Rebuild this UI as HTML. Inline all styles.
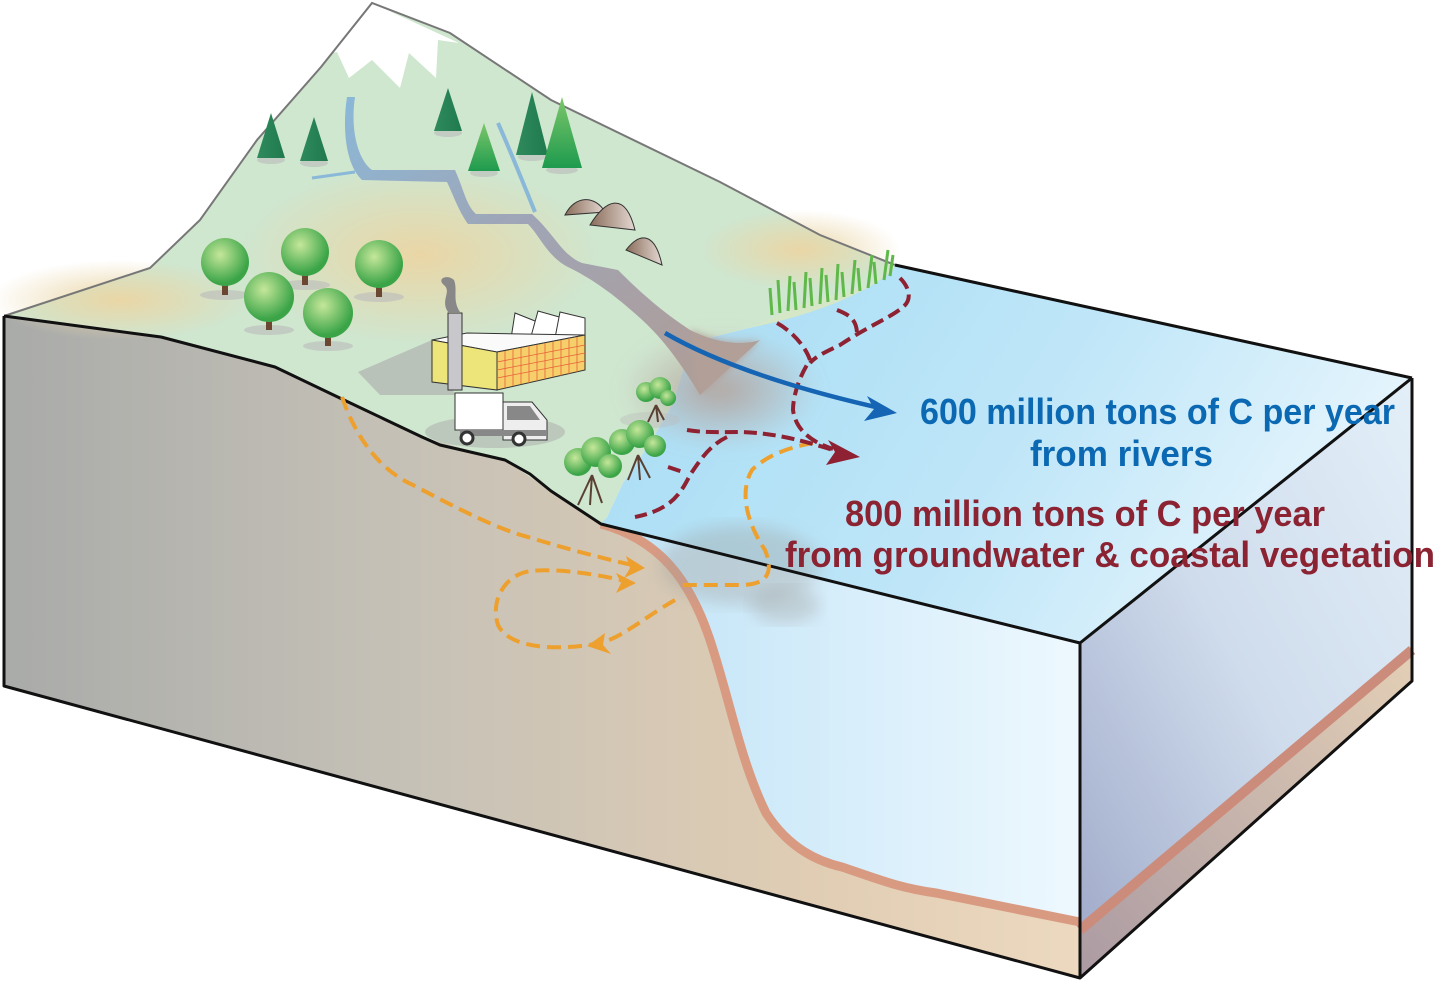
<!DOCTYPE html>
<html><head><meta charset="utf-8"><style>
html,body{margin:0;padding:0;background:#fff;}
svg{display:block;}
text{font-family:"Liberation Sans Narrow","Liberation Sans",sans-serif;font-weight:bold;}
</style></head><body>
<svg width="1440" height="981" viewBox="0 0 1440 981" xmlns="http://www.w3.org/2000/svg">
<defs>
<linearGradient id="frontLand" x1="0" y1="0" x2="1" y2="0">
<stop offset="0" stop-color="#a9aba9"/><stop offset="0.35" stop-color="#c4c0b6"/><stop offset="0.75" stop-color="#e0cdb4"/><stop offset="1" stop-color="#ecd9bf"/></linearGradient>
<linearGradient id="frontSea" x1="0" y1="0" x2="1" y2="0">
<stop offset="0" stop-color="#bfe3f7"/><stop offset="1" stop-color="#eef8fe"/></linearGradient>
<linearGradient id="rightFace" x1="1" y1="0" x2="0" y2="1">
<stop offset="0" stop-color="#e3eff8"/><stop offset="0.5" stop-color="#cfdcec"/><stop offset="1" stop-color="#9ea8c8"/></linearGradient>
<linearGradient id="rightSed" x1="1" y1="0" x2="0" y2="1">
<stop offset="0" stop-color="#e4d0b6"/><stop offset="1" stop-color="#ab9aa2"/></linearGradient>
<linearGradient id="seaTop" x1="0" y1="0" x2="1" y2="0.3">
<stop offset="0" stop-color="#a6dcf4"/><stop offset="0.6" stop-color="#bfe6f8"/><stop offset="1" stop-color="#e4f4fc"/></linearGradient>
<radialGradient id="tan" cx="0.5" cy="0.5" r="0.5">
<stop offset="0" stop-color="#ead6a6"/><stop offset="1" stop-color="#ead6a6" stop-opacity="0"/></radialGradient>
<radialGradient id="plume" cx="0.5" cy="0.5" r="0.5">
<stop offset="0" stop-color="#b4a29a" stop-opacity="0.9"/><stop offset="1" stop-color="#b4a29a" stop-opacity="0"/></radialGradient>
<linearGradient id="conifer" x1="0" y1="0" x2="1" y2="0"><stop offset="0" stop-color="#2f8a5c"/><stop offset="1" stop-color="#1f7a4e"/></linearGradient>
<linearGradient id="conifer2" x1="0" y1="0" x2="0" y2="1"><stop offset="0" stop-color="#7cc66a"/><stop offset="1" stop-color="#1e9b4e"/></linearGradient>
<radialGradient id="leaf" cx="0.4" cy="0.35" r="0.6"><stop offset="0" stop-color="#c5e79a"/><stop offset="1" stop-color="#3aa447"/></radialGradient>
<linearGradient id="rock" x1="0" y1="0" x2="1" y2="0"><stop offset="0" stop-color="#8a6d5a"/><stop offset="1" stop-color="#e4d8d2"/></linearGradient>
<linearGradient id="river" x1="0" y1="0" x2="1" y2="1"><stop offset="0" stop-color="#8ab8d8"/><stop offset="0.45" stop-color="#a0a4b4"/><stop offset="1" stop-color="#b29c92"/></linearGradient>
<filter id="blur8"><feGaussianBlur stdDeviation="8"/></filter>
<filter id="blur4"><feGaussianBlur stdDeviation="4"/></filter>
<filter id="blur2"><feGaussianBlur stdDeviation="2"/></filter>
</defs>

<path d="M4,316 L161,337 L275,367 L344,400 L422,437 L505,460 L551,491 L601,524 L1080,643 L1080,978 L4,686 Z" fill="url(#frontLand)"/>
<path d="M601,524 C660,540 690,580 710,640 C730,700 740,760 766,813 C790,850 820,862 842,867 C880,880 900,888 936,893 L1068,918 L1080,920 L1080,643 Z" fill="url(#frontSea)"/>
<path d="M601,524 C660,540 690,580 710,640 C730,700 740,760 766,813 C790,850 820,862 842,867 C880,880 900,888 936,893 L1080,922" fill="none" stroke="#d99a82" stroke-width="9"/>
<path d="M1080,643 L1412,378 L1412,681 L1080,978 Z" fill="url(#rightFace)"/>
<path d="M1080,930 L1412,645 L1412,681 L1080,978 Z" fill="url(#rightSed)"/>
<path d="M1080,930 L1412,650" stroke="#cc8c7c" stroke-width="10"/>

<path d="M601,524 L720,553 L1080,643 L1412,378 L895,265 L870,285 L800,305 L753,327 L700,340 L683,370 L673,403 L650,443 L623,483 L607,517 Z" fill="url(#seaTop)"/>

<path d="M4,316 L150,268 L200,220 L257,140 L321,67 L372,3 L450,33 L551,100 L720,182 L820,235 L895,265 L870,285 L800,305 L753,327 L700,340 L683,370 L673,403 L650,443 L623,483 L607,517 L601,524 L551,491 L505,460 L422,437 L344,400 L275,367 L161,337 Z" fill="#cfe6cf"/>
<ellipse cx="120" cy="300" rx="130" ry="40" fill="url(#tan)"/>
<ellipse cx="420" cy="255" rx="180" ry="90" fill="url(#tan)"/>
<ellipse cx="800" cy="250" rx="100" ry="40" fill="url(#tan)"/>
<path d="M372,3 L303,58 L337,52 L349,78 L372,60 L400,88 L409,53 L436,78 L438,40 L459,43 Z" fill="#fff"/>

<!-- plumes -->
<ellipse cx="720" cy="390" rx="100" ry="60" fill="url(#plume)" filter="url(#blur8)"/>
<ellipse cx="740" cy="565" rx="80" ry="40" fill="#9e9e9a" opacity="0.35" filter="url(#blur8)"/>
<ellipse cx="785" cy="605" rx="35" ry="18" fill="#9e9e9a" opacity="0.35" filter="url(#blur8)"/>
<!-- river -->
<path d="M355,97 C350,130 358,160 372,170 L455,170 C464,190 466,205 476,214 L532,214 C555,235 562,255 582,263 L618,270 C640,292 660,310 690,330 C720,345 745,345 760,340 L700,395 C685,370 665,340 640,318 C620,300 598,282 570,268 C548,258 540,236 528,224 L468,224 C458,210 452,192 447,182 L362,180 C346,165 342,130 347,97 Z" fill="url(#river)"/>
<path d="M690,330 C720,345 745,345 760,340 L700,395 Z" fill="#b2a098" filter="url(#blur4)"/>
<path d="M355,172 L312,178" stroke="#8ab8d8" stroke-width="3"/>
<path d="M498,123 C510,150 520,175 535,212" stroke="#8ab8d8" stroke-width="4" fill="none"/>

<path d="M4,316 L150,268 L200,220 L257,140 L321,67 L372,3 L450,33 L551,100 L720,182 L820,235 L895,265" fill="none" stroke="#777" stroke-width="2"/>

<g>
<ellipse cx="271" cy="160" rx="14" ry="4" fill="#bbb" opacity=".6"/><path d="M271,113 L285,158 L257,158 Z" fill="url(#conifer)"/>
<ellipse cx="314" cy="163" rx="14" ry="4" fill="#bbb" opacity=".6"/><path d="M314,117 L328,161 L300,161 Z" fill="url(#conifer)"/>
<ellipse cx="448" cy="133" rx="14" ry="4" fill="#bbb" opacity=".6"/><path d="M448,88 L462,131 L434,131 Z" fill="url(#conifer)"/>
<ellipse cx="484" cy="173" rx="14" ry="4" fill="#bbb" opacity=".6"/><path d="M484,123 L500,171 L468,171 Z" fill="url(#conifer2)"/>
<ellipse cx="532" cy="157" rx="14" ry="4" fill="#bbb" opacity=".6"/><path d="M532,92 L548,155 L516,155 Z" fill="url(#conifer)"/>
<ellipse cx="562" cy="170" rx="16" ry="4" fill="#bbb" opacity=".6"/><path d="M562,97 L582,168 L542,168 Z" fill="url(#conifer2)"/>
</g>
<path d="M565,215 C575,195 595,195 605,212 Z" fill="url(#rock)" stroke="#333" stroke-width="1"/>
<path d="M590,225 C605,200 625,190 635,230 Z" fill="url(#rock)" stroke="#333" stroke-width="1"/>
<path d="M626,250 C640,232 655,232 662,265 Z" fill="url(#rock)" stroke="#333" stroke-width="1"/>

<g>
<ellipse cx="225" cy="295" rx="25" ry="5" fill="#bbb" opacity=".6"/><rect x="222" y="275" width="6" height="20" fill="#6b4630"/><circle cx="225" cy="262" r="24" fill="url(#leaf)"/>
<ellipse cx="305" cy="285" rx="25" ry="5" fill="#bbb" opacity=".6"/><rect x="302" y="265" width="6" height="20" fill="#6b4630"/><circle cx="305" cy="252" r="24" fill="url(#leaf)"/>
<ellipse cx="379" cy="297" rx="25" ry="5" fill="#bbb" opacity=".6"/><rect x="376" y="277" width="6" height="20" fill="#6b4630"/><circle cx="379" cy="264" r="24" fill="url(#leaf)"/>
<ellipse cx="269" cy="330" rx="25" ry="5" fill="#bbb" opacity=".6"/><rect x="266" y="310" width="6" height="20" fill="#6b4630"/><circle cx="269" cy="297" r="25" fill="url(#leaf)"/>
<ellipse cx="328" cy="346" rx="25" ry="5" fill="#bbb" opacity=".6"/><rect x="325" y="326" width="6" height="20" fill="#6b4630"/><circle cx="328" cy="313" r="25" fill="url(#leaf)"/>
</g>

<path d="M358,372 L432,340 L455,395 L380,395 Z" fill="#aaa" opacity=".6"/>
<ellipse cx="495" cy="432" rx="70" ry="16" fill="#aaa" opacity=".5"/>
<path d="M448,312 C440,300 452,292 444,285 C436,278 448,274 454,280 C458,290 452,300 460,312 Z" fill="#888"/>
<path d="M510,345 L515,313 L545,325 L545,340 Z" fill="#fff" stroke="#333" stroke-width="1"/>
<path d="M530,340 L538,311 L570,320 L570,338 Z" fill="#fff" stroke="#333" stroke-width="1"/>
<path d="M555,338 L560,312 L585,318 L585,336 Z" fill="#fff" stroke="#333" stroke-width="1"/>
<path d="M432,340 L467,333 L585,335 L497,352 Z" fill="#fafafa" stroke="#333" stroke-width="1"/>
<path d="M432,340 L497,352 L497,390 L432,382 Z" fill="#ede57a" stroke="#333" stroke-width="1"/>
<path d="M497,352 L585,335 L585,370 L497,390 Z" fill="#f6cf6a" stroke="#333" stroke-width="1"/>
<g stroke="#e8603a" stroke-width="0.8">
<path d="M505,351 V388 M513,349 V386 M521,348 V384 M529,346 V383 M537,345 V381 M545,343 V379 M553,342 V377 M561,340 V376 M569,338 V374 M577,337 V372"/>
<path d="M497,362 L585,345 M497,370 L585,353 M497,378 L585,361"/>
</g>
<rect x="448" y="313" width="14" height="77" fill="#c8c8cc" stroke="#333" stroke-width="1"/>
<rect x="455" y="393" width="48" height="37" fill="#fff" stroke="#333" stroke-width="1"/>
<path d="M503,402 L532,402 L547,420 L547,440 L503,440 Z" fill="#eee" stroke="#333" stroke-width="1"/>
<path d="M507,406 L530,406 L540,420 L507,420 Z" fill="#888"/>
<rect x="460" y="430" width="87" height="6" fill="#888"/>
<circle cx="467" cy="438" r="6" fill="#fff" stroke="#333" stroke-width="3"/>
<circle cx="519" cy="439" r="6" fill="#fff" stroke="#333" stroke-width="3"/>

<!-- mangroves -->
<g>
<ellipse cx="650" cy="420" rx="30" ry="8" fill="#bbb" opacity=".4"/>
<path d="M656,405 L648,422 M656,405 L658,422 M656,405 L664,420" stroke="#5a4033" stroke-width="2" fill="none"/>
<circle cx="646" cy="392" r="10" fill="url(#leaf)"/><circle cx="660" cy="388" r="11" fill="url(#leaf)"/><circle cx="668" cy="398" r="8" fill="url(#leaf)"/>
<path d="M638,455 L628,480 M638,455 L640,480 M638,455 L650,478" stroke="#5a4033" stroke-width="2" fill="none"/>
<circle cx="622" cy="442" r="13" fill="url(#leaf)"/><circle cx="640" cy="434" r="14" fill="url(#leaf)"/><circle cx="655" cy="446" r="11" fill="url(#leaf)"/>
<path d="M592,475 L578,505 M592,475 L590,505 M592,475 L602,503" stroke="#5a4033" stroke-width="2" fill="none"/>
<circle cx="578" cy="462" r="14" fill="url(#leaf)"/><circle cx="596" cy="452" r="15" fill="url(#leaf)"/><circle cx="610" cy="466" r="12" fill="url(#leaf)"/>
</g>
<path d="M753,327 C790,320 860,300 893,270 L895,265 L870,285 L800,305 Z" fill="#d5e7c6"/>
<g stroke="#5fb84a" stroke-width="3" fill="none">
<path d="M772,315 L770,288 M780,313 L778,280 M788,311 L790,276 M796,310 L794,282 M804,308 L806,272 M812,306 L810,278 M820,304 L822,268 M828,302 L826,275 M836,300 L838,264 M844,297 L842,272 M852,294 L855,260 M860,291 L858,268 M868,288 L872,255 M876,284 L874,262 M884,280 L888,250 M890,276 L893,255"/>
</g>

<g fill="none" stroke="#111" stroke-width="3" stroke-linejoin="round">
<path d="M4,316 L161,337 L275,367 L344,400 L422,437 L440,445 L505,460 L530,474 L551,491 L601,524 L1080,643 L1412,378"/>
<path d="M895,265 L1412,378"/>
<path d="M4,316 L4,686 L1080,978 L1412,681 L1412,378"/>
<path d="M1080,643 L1080,978"/>
</g>

<g fill="none" stroke="#eda02e" stroke-width="4" stroke-dasharray="14 7">
<path d="M342,397 C360,450 390,475 413,485 C460,510 500,530 528,537 C570,550 610,560 636,566"/>
<path d="M675,600 C640,620 620,640 595,644 C560,650 510,650 498,625 C490,600 505,575 530,571 C560,568 600,575 625,581"/>
<path d="M813,443 C790,447 767,455 752,470 C740,490 745,520 765,550 C775,575 765,585 740,585 L682,585"/>
</g>
<g fill="#eda02e">
<path d="M645,568 L626,556 L630,568 L624,578 Z"/>
<path d="M636,583 L616,573 L621,583 L616,593 Z"/>
<path d="M587,646 L605,633 L603,645 L611,654 Z"/>
</g>

<g fill="none" stroke="#8e2232" stroke-width="4" stroke-dasharray="13 6">
<path d="M777,323 C790,330 805,345 810,360 C800,375 793,395 793,410 C795,425 805,440 833,449"/>
<path d="M900,278 C910,288 912,300 903,307 C890,318 870,325 840,345 C825,352 815,357 810,363"/>
<path d="M837,310 C850,315 858,320 857,338"/>
<path d="M687,430 C705,433 720,432 740,432 C770,433 795,438 833,450"/>
<path d="M727,437 C710,445 700,460 690,475 C680,495 670,510 635,517"/>
<path d="M668,467 L683,472"/>
</g>
<path d="M860,457 L828,440 L835,452 L826,465 Z" fill="#8e2232"/>

<path d="M665,333 C720,365 800,390 880,408" fill="none" stroke="#1565b4" stroke-width="4.5"/>
<path d="M897,413 L867,396 L874,409 L864,421 Z" fill="#1565b4"/>

<text x="920" y="424" font-size="36" fill="#0b68b2" textLength="475" lengthAdjust="spacingAndGlyphs">600 million tons of C per year</text>
<text x="1030" y="466" font-size="36" fill="#0b68b2" textLength="183" lengthAdjust="spacingAndGlyphs">from rivers</text>
<text x="845" y="526" font-size="36" fill="#8b2332" textLength="480" lengthAdjust="spacingAndGlyphs">800 million tons of C per year</text>
<text x="785" y="567" font-size="36" fill="#8b2332" textLength="650" lengthAdjust="spacingAndGlyphs">from groundwater &amp; coastal vegetation</text>
</svg>
</body></html>
